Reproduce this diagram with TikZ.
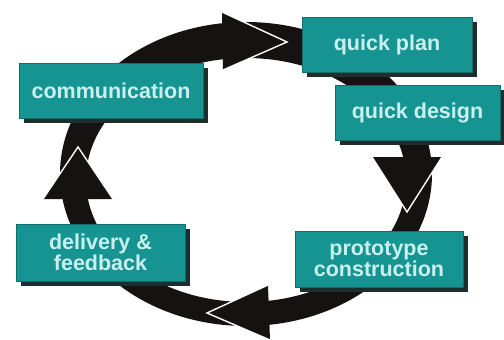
\documentclass[tikz,border=0pt]{standalone}
\usepackage{fontspec}
\setmainfont{Liberation Sans}
\usetikzlibrary{shadows}
\definecolor{tealbox}{RGB}{22,148,146}
\definecolor{boxtext}{RGB}{200,240,238}
\definecolor{boxshadow}{RGB}{30,45,45}
\definecolor{ringc}{RGB}{22,18,18}
\begin{document}
\begin{tikzpicture}[x=1pt,y=-1pt,
  stagebox/.style={rectangle, fill=tealbox, draw=tealbox!75!black, line width=0.6pt,
    inner sep=0pt, text=boxtext, font=\bfseries\fontsize{21.5}{19}\selectfont, align=center,
    drop shadow={shadow xshift=5pt, shadow yshift=-5pt, fill=boxshadow, opacity=1}},
  headfill/.style={fill=ringc},
  headedge/.style={draw=white, line width=1.4pt, line join=miter}]
\useasboundingbox (0,0) rectangle (504,340);
\fill[white] (0,0) rectangle (504,340);
% ring
\fill[ringc, even odd rule] (246,174) ellipse [x radius=186pt, y radius=152pt]
  (246,180) ellipse [x radius=160pt, y radius=122pt];
% arrowheads
\coordinate (ta) at (222,12); \coordinate (tb) at (223,70); \coordinate (tt) at (287,42);
\coordinate (ra) at (442,157); \coordinate (rb) at (372,157); \coordinate (rt) at (407,212);
\coordinate (ba) at (270,340); \coordinate (bb) at (268,285); \coordinate (bt) at (207,313);
\coordinate (la) at (43,199); \coordinate (lb) at (113,199); \coordinate (lt) at (78,147);
\foreach \h in {t,r,b,l}{
  \fill[headfill] (\h a) -- (\h t) -- (\h b) -- cycle;
  \draw[headedge] (\h a) -- (\h t) -- (\h b);
}
% boxes
\node[stagebox, minimum width=184pt, minimum height=55pt] (comm) at (111,90.5) {communication};
\node[stagebox, minimum width=170pt, minimum height=55pt] (plan) at (387,44.5) {quick plan};
\node[stagebox, minimum width=165pt, minimum height=55pt] (design) at (417.5,112.5) {quick design};
\node[stagebox, minimum width=169pt, minimum height=57pt] (deliv) at (100.5,252.5) {delivery \&\\feedback};
\node[stagebox, minimum width=168pt, minimum height=56pt] (proto) at (379,259) {prototype\\construction};
\end{tikzpicture}
\end{document}
